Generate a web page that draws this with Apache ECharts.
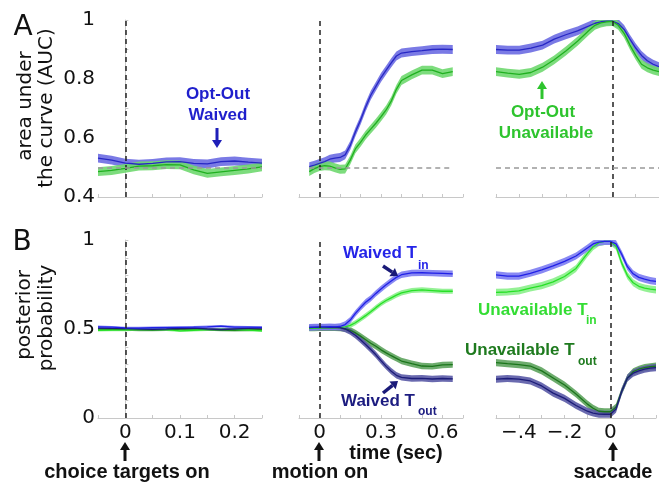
<!DOCTYPE html>
<html><head><meta charset="utf-8">
<script src="https://cdn.jsdelivr.net/npm/echarts@6/dist/echarts.min.js"></script>
<style>html,body{margin:0;padding:0;background:#fff}#c{width:659px;height:483px}</style>
</head><body><div id="c"></div>
<script>
// ---------- time samples (sec) ----------
const xChoice = [-0.05,-0.025,0,0.025,0.05,0.075,0.1,0.125,0.15,0.175,0.2,0.225,0.25];
const xMotion = [-0.05,-0.025,0,0.025,0.05,0.075,0.1,0.125,0.15,0.175,0.2,0.225,0.25,0.275,0.3,0.325,0.35,0.375,0.4,0.45,0.5,0.55,0.6,0.65];
const xSacc = [-0.5,-0.45,-0.4,-0.35,-0.3,-0.25,-0.2,-0.15,-0.1,-0.075,-0.05,-0.025,0,0.025,0.05,0.075,0.1,0.125,0.15,0.175,0.2];

// ---------- A: AUC ----------
const aucWaivedChoice   = [0.532,0.525,0.515,0.511,0.514,0.519,0.52,0.514,0.512,0.52,0.522,0.518,0.515];
const aucUnavailChoice  = [0.486,0.49,0.497,0.505,0.506,0.51,0.509,0.492,0.48,0.485,0.49,0.495,0.502];
const aucWaivedMotion   = [0.503,0.508,0.514,0.52,0.528,0.532,0.534,0.543,0.575,0.62,0.66,0.705,0.745,0.775,0.805,0.83,0.855,0.878,0.888,0.893,0.896,0.9,0.901,0.9];
const aucUnavailMotion  = [0.486,0.496,0.503,0.506,0.505,0.499,0.494,0.495,0.525,0.563,0.585,0.61,0.63,0.65,0.672,0.695,0.725,0.765,0.795,0.814,0.83,0.83,0.818,0.825];
const aucWaivedSacc     = [0.9,0.898,0.898,0.905,0.915,0.935,0.95,0.963,0.98,0.989,0.994,0.996,0.996,0.988,0.968,0.935,0.905,0.88,0.862,0.85,0.842];
const aucUnavailSacc    = [0.825,0.82,0.816,0.822,0.84,0.865,0.895,0.928,0.965,0.982,0.99,0.994,0.995,0.982,0.955,0.915,0.88,0.85,0.838,0.83,0.825];

// ---------- B: posterior probability ----------
const ppWaivedTinChoice    = [0.512,0.51,0.506,0.505,0.507,0.508,0.509,0.51,0.512,0.516,0.511,0.51,0.509];
const ppWaivedToutChoice   = [0.505,0.503,0.502,0.5,0.498,0.5,0.503,0.505,0.5,0.497,0.5,0.503,0.505];
const ppUnavailTinChoice   = [0.493,0.494,0.495,0.497,0.498,0.496,0.49,0.493,0.496,0.498,0.497,0.494,0.49];
const ppUnavailToutChoice  = [0.5,0.498,0.497,0.495,0.494,0.496,0.499,0.5,0.497,0.494,0.493,0.495,0.497];

const ppWaivedTinMotion    = [0.51,0.511,0.512,0.512,0.513,0.512,0.514,0.525,0.55,0.588,0.62,0.65,0.672,0.7,0.725,0.748,0.77,0.79,0.805,0.815,0.816,0.814,0.812,0.81];
const ppUnavailTinMotion   = [0.503,0.505,0.507,0.508,0.508,0.508,0.509,0.512,0.52,0.535,0.555,0.575,0.597,0.62,0.642,0.66,0.675,0.69,0.703,0.716,0.72,0.716,0.712,0.712];
const ppWaivedToutMotion   = [0.508,0.509,0.51,0.51,0.509,0.51,0.508,0.5,0.485,0.465,0.44,0.413,0.385,0.355,0.322,0.29,0.263,0.24,0.228,0.222,0.223,0.219,0.222,0.22];
const ppUnavailToutMotion  = [0.505,0.506,0.507,0.507,0.507,0.507,0.506,0.502,0.493,0.478,0.46,0.44,0.42,0.403,0.383,0.366,0.35,0.335,0.32,0.305,0.292,0.29,0.298,0.3];

const ppWaivedTinSacc      = [0.804,0.797,0.797,0.813,0.832,0.855,0.88,0.91,0.955,0.978,0.988,0.992,0.992,0.978,0.92,0.85,0.81,0.79,0.78,0.772,0.767];
const ppUnavailTinSacc     = [0.706,0.708,0.714,0.73,0.744,0.765,0.795,0.84,0.925,0.962,0.985,0.992,0.992,0.965,0.87,0.8,0.76,0.74,0.73,0.724,0.72];
const ppUnavailToutSacc    = [0.311,0.305,0.3,0.292,0.265,0.225,0.185,0.135,0.078,0.055,0.038,0.035,0.035,0.06,0.15,0.225,0.26,0.274,0.283,0.288,0.292];
const ppWaivedToutSacc     = [0.218,0.222,0.218,0.208,0.18,0.14,0.11,0.07,0.038,0.028,0.022,0.021,0.021,0.05,0.15,0.225,0.252,0.265,0.274,0.28,0.283];

// ---------- band half-widths (s.e.m.) ----------
const semA = 0.015, semBChoice = 0.007, semBMotion = 0.018, semBSacc = 0.02;

// ---------- ticks ----------
const xTicksChoice = [0,0.1,0.2],      xLabelsChoice = ['0','0.1','0.2'];
const xTicksMotion = [0,0.3,0.6],      xLabelsMotion = ['0','0.3','0.6'];
const xTicksSacc   = [-0.4,-0.2,0],    xLabelsSacc   = ['\u2212.4','\u2212.2','0'];
const yTicksA = [0.4,0.6,0.8,1],       yLabelsA = ['0.4','0.6','0.8','1'];
const yTicksB = [0,0.5,1],             yLabelsB = ['0','0.5','1'];
const eventTime = 0, chanceLevel = 0.5;

// ---------- colours ----------
const C = {
  aBlueBand:'#6b6be2', aBlue:'#2727c4', aGreenBand:'#6fd86f', aGreen:'#20b020',
  tinBand:'#7c7cf2', tin:'#2020e6', toutBand:'#5a5aa6', tout:'#1c1c78',
  uTinBand:'#8af08a', uTin:'#26e026', uToutBand:'#5da35d', uTout:'#1b751b'
};

const fmt = (ticks, labels) => v => { const i = ticks.findIndex(t => Math.abs(t - v) < 1e-6); return i >= 0 ? labels[i] : ''; };
const FONT = 'DejaVu Sans';
const axisGray = '#c8c8c8';

const grids = [
  {left:98, top:20, width:164, height:177},
  {left:299, top:20, width:164, height:177},
  {left:496, top:20, width:163, height:177},
  {left:98, top:240, width:164, height:178},
  {left:299, top:240, width:164, height:178},
  {left:496, top:240, width:163, height:178}
];
const xSpec = [
  {min:-0.05, max:0.25, interval:0.05, t:xTicksChoice, l:xLabelsChoice},
  {min:-0.1, max:0.7, interval:0.1, t:xTicksMotion, l:xLabelsMotion},
  {min:-0.5, max:0.2, interval:0.1, t:xTicksSacc, l:xLabelsSacc}
];
const xAxes = grids.map((g, i) => {
  const s = xSpec[i % 3];
  return {type:'value', gridIndex:i, min:s.min, max:s.max, interval:s.interval,
    axisLine:{show:true, onZero:false, lineStyle:{color:axisGray, width:1}},
    axisTick:{show:true, inside:true, length:3, lineStyle:{color:axisGray}},
    splitLine:{show:false},
    axisLabel:{show:i >= 3, formatter:fmt(s.t, s.l), fontFamily:FONT, fontSize:20, color:'#111', margin:5, showMinLabel:true, showMaxLabel:true}};
});
const yAxes = grids.map((g, i) => {
  const rowA = i < 3;
  return {type:'value', gridIndex:i, min:rowA ? 0.4 : 0, max:1, interval:0.1,
    show: i % 3 === 0,
    axisLine:{show:true, lineStyle:{color:axisGray, width:1}},
    axisTick:{show:true, inside:true, length:3, lineStyle:{color:axisGray}},
    splitLine:{show:false},
    axisLabel:{formatter: rowA ? fmt(yTicksA, yLabelsA) : fmt(yTicksB, yLabelsB), fontFamily:FONT, fontSize:20, color:'#111', margin:3}};
});

function band(gi, xs, ys, hw, bandColor, lineColor) {
  const pts = xs.map((x, i) => [x, ys[i] - hw, ys[i] + hw]);
  return [
    {type:'custom', xAxisIndex:gi, yAxisIndex:gi, data:pts, encode:{x:0, y:[1, 2]}, silent:true, animation:false, z:2, clip:true,
      renderItem: function (params, api) {
        if (params.dataIndex !== 0) return null;
        const up = pts.map(p => api.coord([p[0], p[2]]));
        const dn = pts.map(p => api.coord([p[0], p[1]])).reverse();
        return {type:'polygon', shape:{points:up.concat(dn)}, style:{fill:bandColor, opacity:0.9}};
      }},
    {type:'line', xAxisIndex:gi, yAxisIndex:gi, symbol:'none', silent:true, animation:false,
      data: xs.map((x, i) => [x, ys[i]]), lineStyle:{color:lineColor, width:1.3}, z:3}
  ];
}
function refLines(gi, hLine) {
  const out = [{type:'line', xAxisIndex:gi, yAxisIndex:gi, data:[], silent:true, animation:false, z:4,
    markLine:{silent:true, symbol:['none','none'], label:{show:false}, animation:false,
      lineStyle:{color:'#222', type:[5,4], width:1.5}, data:[{xAxis:eventTime}]}}];
  if (hLine) {
    out.push({type:'line', xAxisIndex:gi, yAxisIndex:gi, data:[], silent:true, animation:false, z:1,
      markLine:{silent:true, symbol:['none','none'], label:{show:false}, animation:false,
        lineStyle:{color:'#999', type:[5,4], width:1.5},
        data:[[{coord:[hLine[0], chanceLevel]}, {coord:[hLine[1], chanceLevel]}]]}});
  }
  return out;
}

const series = [].concat(
  refLines(0, [-0.05, 0.25]),
  band(0, xChoice, aucWaivedChoice, semA, C.aBlueBand, C.aBlue),
  band(0, xChoice, aucUnavailChoice, semA, C.aGreenBand, C.aGreen),
  refLines(1, [-0.05, 0.65]),
  band(1, xMotion, aucWaivedMotion, semA, C.aBlueBand, C.aBlue),
  band(1, xMotion, aucUnavailMotion, semA, C.aGreenBand, C.aGreen),
  refLines(2, [-0.5, 0.2]),
  band(2, xSacc, aucWaivedSacc, semA, C.aBlueBand, C.aBlue),
  band(2, xSacc, aucUnavailSacc, semA, C.aGreenBand, C.aGreen),
  refLines(3, null),
  band(3, xChoice, ppUnavailToutChoice, semBChoice, C.uToutBand, C.uTout),
  band(3, xChoice, ppUnavailTinChoice, semBChoice, C.uTinBand, C.uTin),
  band(3, xChoice, ppWaivedToutChoice, semBChoice, C.toutBand, C.tout),
  band(3, xChoice, ppWaivedTinChoice, semBChoice, C.tinBand, C.tin),
  refLines(4, null),
  band(4, xMotion, ppUnavailToutMotion, semBMotion, C.uToutBand, C.uTout),
  band(4, xMotion, ppUnavailTinMotion, semBMotion * 0.8, C.uTinBand, C.uTin),
  band(4, xMotion, ppWaivedToutMotion, semBMotion, C.toutBand, C.tout),
  band(4, xMotion, ppWaivedTinMotion, semBMotion, C.tinBand, C.tin),
  refLines(5, null),
  band(5, xSacc, ppUnavailToutSacc, semBSacc, C.uToutBand, C.uTout),
  band(5, xSacc, ppWaivedToutSacc, semBSacc, C.toutBand, C.tout),
  band(5, xSacc, ppUnavailTinSacc, semBSacc, C.uTinBand, C.uTin),
  band(5, xSacc, ppWaivedTinSacc, semBSacc, C.tinBand, C.tin)
);

// ---------- annotations ----------
function txt(x, y, s, size, color, bold, align, rot) {
  return {type:'text', x:x, y:y, rotation:rot || 0, z:50,
    style:{text:s, fill:color, font:(bold ? 'bold ' : '') + size + 'px ' + (bold ? '"Liberation Sans", Arial, sans-serif' : '"DejaVu Sans", sans-serif'),
      textAlign:align || 'center', textVerticalAlign:'middle'}};
}
function arrow(x1, y1, x2, y2, color, w, hl, hw) {
  const dx = x2 - x1, dy = y2 - y1, L = Math.hypot(dx, dy), ux = dx / L, uy = dy / L;
  const bx = x2 - ux * hl, by = y2 - uy * hl, px = -uy, py = ux;
  return [
    {type:'line', z:50, shape:{x1:x1, y1:y1, x2:bx, y2:by}, style:{stroke:color, lineWidth:w}},
    {type:'polygon', z:50, shape:{points:[[x2, y2], [bx + px * hw / 2, by + py * hw / 2], [bx - px * hw / 2, by - py * hw / 2]]}, style:{fill:color}}
  ];
}
const graphics = [].concat(
  [txt(23, 28, 'A', 28, '#111'), txt(22, 243, 'B', 28, '#111'),
   txt(26, 106, 'area under', 20, '#111', false, 'center', Math.PI / 2),
   txt(47, 108, 'the curve (AUC)', 20, '#111', false, 'center', Math.PI / 2),
   txt(25, 315, 'posterior', 20, '#111', false, 'center', Math.PI / 2),
   txt(47, 318, 'probability', 20, '#111', false, 'center', Math.PI / 2),
   txt(396, 453, 'time (sec)', 20, '#111', true),
   txt(127, 472, 'choice targets on', 20, '#111', true),
   txt(320, 472, 'motion on', 20, '#111', true),
   txt(613, 472, 'saccade', 20, '#111', true),
   txt(218, 94, 'Opt-Out', 17, '#1f1fcc', true),
   txt(218, 115, 'Waived', 17, '#1f1fcc', true),
   txt(543, 112, 'Opt-Out', 17, '#2ec42e', true),
   txt(546, 133, 'Unavailable', 17, '#2ec42e', true),
   txt(343, 253, 'Waived T', 17, '#2424e8', true, 'left'),
   txt(418, 266, 'in', 12, '#2424e8', true, 'left'),
   txt(341, 401, 'Waived T', 17, '#1c1c80', true, 'left'),
   txt(418, 412, 'out', 12, '#1c1c80', true, 'left'),
   txt(478, 310, 'Unavailable T', 17, '#33dd33', true, 'left'),
   txt(586, 321, 'in', 12, '#33dd33', true, 'left'),
   txt(465, 350, 'Unavailable T', 17, '#1e7a1e', true, 'left'),
   txt(578, 362, 'out', 12, '#1e7a1e', true, 'left')],
  arrow(125, 461, 125, 442, '#111', 3, 8, 10),
  arrow(319, 461, 319, 442, '#111', 3, 8, 10),
  arrow(613, 461, 613, 442, '#111', 3, 8, 10),
  arrow(217, 128, 217, 148, '#1f1fb8', 3, 8, 10),
  arrow(542, 99, 542, 81, '#2ec42e', 3, 8, 10),
  arrow(383, 266, 398, 276, '#1a1a78', 3.5, 7, 10),
  arrow(383, 393, 398, 381, '#1a1a78', 3.5, 7, 10)
);

const chart = echarts.init(document.getElementById('c'), null, {renderer:'canvas'});
chart.setOption({
  animation:false, backgroundColor:'#fff',
  grid:grids, xAxis:xAxes, yAxis:yAxes, series:series, graphic:graphics
});
</script></body></html>
